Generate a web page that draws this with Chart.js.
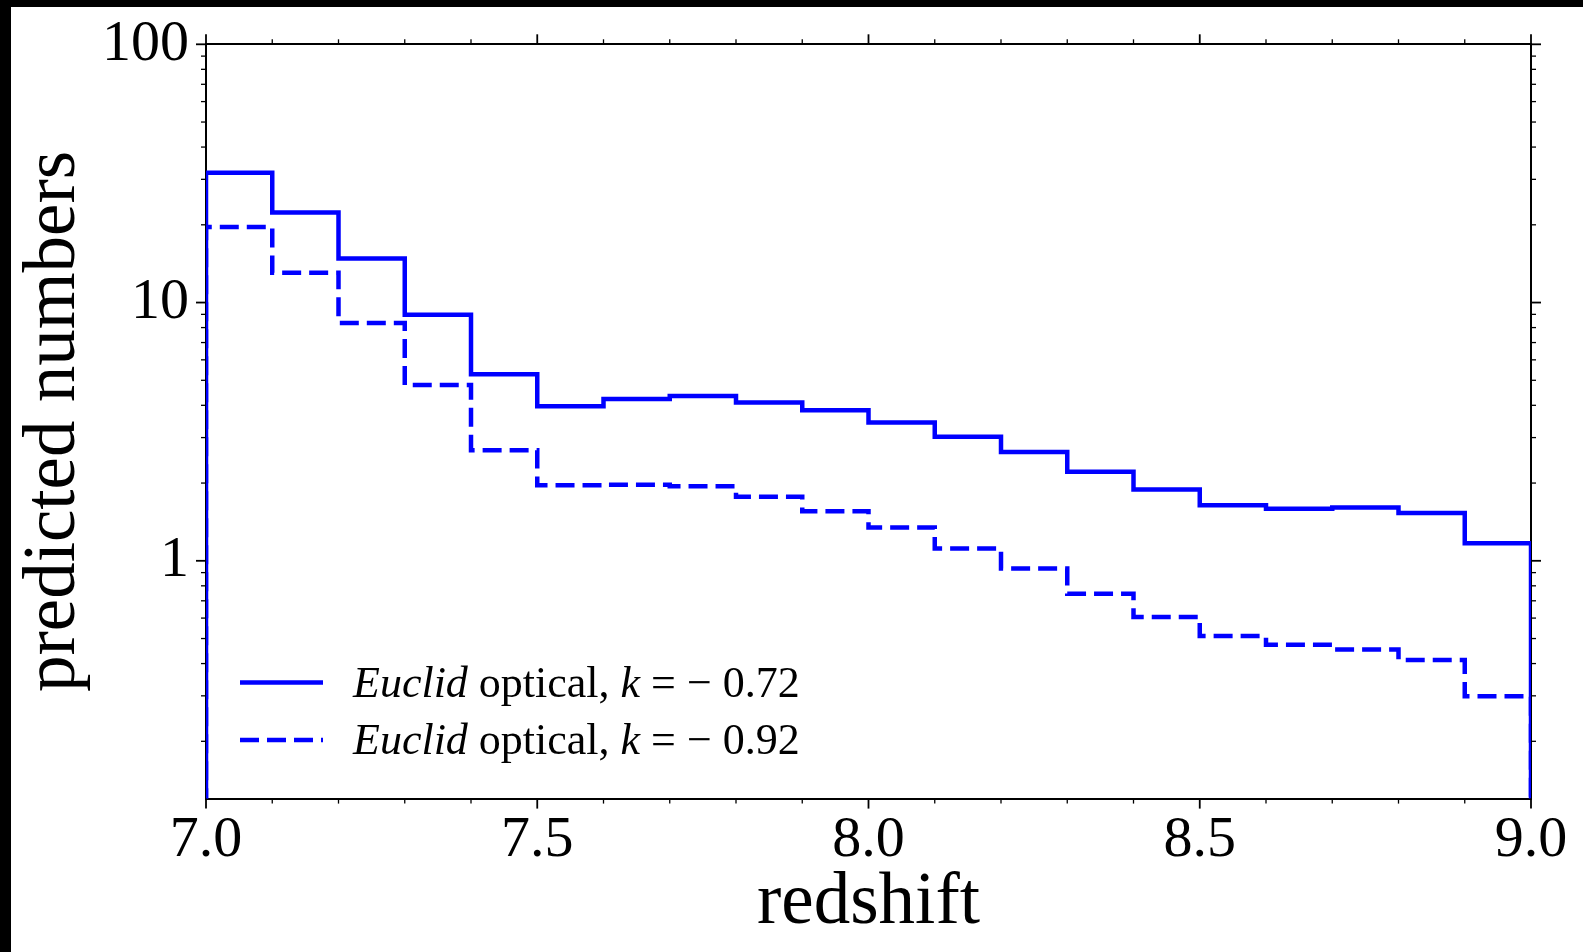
<!DOCTYPE html>
<html>
<head>
<meta charset="utf-8">
<script src="https://cdn.jsdelivr.net/npm/chart.js@4.4.0/dist/chart.umd.min.js"></script>
<style>
  html, body { margin: 0; padding: 0; background: #000; }
  #wrap { position: absolute; left: 11px; top: 7px; width: 1572px; height: 945px; background: #fff; }
</style>
</head>
<body>
<div id="wrap"><canvas id="histChart" width="1572" height="945"></canvas></div>
<script>
// redshift bin edges
var binEdges = [7.0, 7.1, 7.2, 7.3, 7.4, 7.5, 7.6, 7.7, 7.8, 7.9, 8.0,
                8.1, 8.2, 8.3, 8.4, 8.5, 8.6, 8.7, 8.8, 8.9, 9.0];
// predicted numbers per bin
var countsK072 = [31.8, 22.3, 14.8, 8.97, 5.28, 3.97, 4.23, 4.35, 4.10, 3.83,
                  3.43, 3.02, 2.64, 2.21, 1.89, 1.64, 1.59, 1.61, 1.53, 1.17];
var countsK092 = [19.6, 13.05, 8.33, 4.79, 2.68, 1.96, 1.97, 1.945, 1.77, 1.555,
                  1.345, 1.115, 0.933, 0.746, 0.606, 0.511, 0.473, 0.453, 0.413, 0.299];
var kValues = ["\u22120.72", "\u22120.92"];

var xMajorTicks = [7.0, 7.5, 8.0, 8.5, 9.0];
var xMinorTicks = [7.1, 7.2, 7.3, 7.4, 7.6, 7.7, 7.8, 7.9, 8.1, 8.2, 8.3, 8.4, 8.6, 8.7, 8.8, 8.9];
var yMajorTicks = [1, 10, 100];
var yMinorTicks = [0.2, 0.3, 0.4, 0.5, 0.6, 0.7, 0.8, 0.9,
                   2, 3, 4, 5, 6, 7, 8, 9,
                   20, 30, 40, 50, 60, 70, 80, 90];

var yFloor = 0.01; // below the axis, so the step outline drops to the bottom edge
var serif = "'Liberation Serif', 'DejaVu Serif', serif";

function stepPoints(vals) {
  var last = binEdges.length - 1;
  var pts = [{ x: binEdges[0], y: yFloor }];
  for (var i = 0; i < vals.length; i++) {
    pts.push({ x: binEdges[i], y: vals[i] });
  }
  pts.push({ x: binEdges[last], y: vals[vals.length - 1] });
  pts.push({ x: binEdges[last], y: yFloor });
  return pts;
}

// outward tick marks on all four sides
var tickMarks = {
  id: "tickMarks",
  afterDraw: function (chart) {
    var ctx = chart.ctx, a = chart.chartArea;
    var xs = chart.scales.x, ys = chart.scales.y;
    function mark(x1, y1, x2, y2, w) {
      ctx.lineWidth = w;
      ctx.beginPath();
      ctx.moveTo(x1, y1);
      ctx.lineTo(x2, y2);
      ctx.stroke();
    }
    ctx.save();
    ctx.strokeStyle = "#000";
    xMajorTicks.forEach(function (v) {
      var p = xs.getPixelForValue(v);
      mark(p, a.bottom, p, a.bottom + 10, 1.8);
      mark(p, a.top, p, a.top - 10, 1.8);
    });
    xMinorTicks.forEach(function (v) {
      var p = xs.getPixelForValue(v);
      mark(p, a.bottom, p, a.bottom + 5, 1.3);
      mark(p, a.top, p, a.top - 5, 1.3);
    });
    yMajorTicks.forEach(function (v) {
      var p = ys.getPixelForValue(v);
      mark(a.left, p, a.left - 10, p, 1.8);
      mark(a.right, p, a.right + 10, p, 1.8);
    });
    yMinorTicks.forEach(function (v) {
      var p = ys.getPixelForValue(v);
      mark(a.left, p, a.left - 5, p, 1.3);
      mark(a.right, p, a.right + 5, p, 1.3);
    });
    ctx.restore();
  }
};

// legend inside the plot, lower left
var insideLegend = {
  id: "insideLegend",
  afterDatasetsDraw: function (chart) {
    var ctx = chart.ctx, a = chart.chartArea;
    ctx.save();
    chart.data.datasets.forEach(function (ds, i) {
      var y = a.bottom - 116 + i * 57.5;
      var x0 = a.left + 34;
      ctx.strokeStyle = ds.borderColor;
      ctx.lineWidth = ds.borderWidth;
      ctx.setLineDash(ds.borderDash || []);
      ctx.beginPath();
      ctx.moveTo(x0, y);
      ctx.lineTo(x0 + 83, y);
      ctx.stroke();
      ctx.setLineDash([]);

      var tx = a.left + 147, ty = y + 14;
      ctx.fillStyle = "#000";
      ctx.textBaseline = "alphabetic";
      ctx.textAlign = "left";
      var parts = [
        ["italic", "Euclid"],
        ["normal", " optical, "],
        ["italic", "k"],
        ["normal", " = " + kValues[i].replace("\u2212", "\u2212 ")]
      ];
      parts.forEach(function (p) {
        ctx.font = p[0] + " 44px " + serif;
        ctx.fillText(p[1], tx, ty);
        tx += ctx.measureText(p[1]).width;
      });
    });
    ctx.restore();
  }
};

var ctx = document.getElementById("histChart").getContext("2d");
var myChart = new Chart(ctx, {
  type: "line",
  data: {
    datasets: [
      {
        label: "Euclid optical, k = \u22120.72",
        data: stepPoints(countsK072),
        borderColor: "#0000ff",
        borderWidth: 4.5,
        stepped: true,
        pointRadius: 0,
        fill: false
      },
      {
        label: "Euclid optical, k = \u22120.92",
        data: stepPoints(countsK092),
        borderColor: "#0000ff",
        borderWidth: 4.5,
        borderDash: [19, 8],
        stepped: true,
        pointRadius: 0,
        fill: false
      }
    ]
  },
  options: {
    responsive: false,
    animation: false,
    layout: { padding: { left: 0, top: 37.3, right: 52, bottom: 0 } },
    plugins: {
      legend: { display: false },
      tooltip: { enabled: false }
    },
    scales: {
      x: {
        type: "linear",
        position: "bottom",
        min: 7,
        max: 9,
        grid: { display: false, drawTicks: false },
        border: { display: true, color: "#000", width: 2 },
        afterBuildTicks: function (s) {
          s.ticks = xMajorTicks.map(function (v) { return { value: v }; });
        },
        afterFit: function (s) { s.height = 153.4; },
        ticks: {
          color: "#000",
          padding: 7,
          maxRotation: 0,
          font: { family: serif, size: 58 },
          callback: function (v) { return Number(v).toFixed(1); }
        },
        title: {
          display: true,
          text: "redshift",
          color: "#000",
          padding: { top: 0, bottom: 4 },
          font: { family: serif, size: 73 }
        }
      },
      x2: {
        type: "linear",
        position: "top",
        min: 7,
        max: 9,
        grid: { display: false, drawTicks: false },
        border: { display: true, color: "#000", width: 2 },
        ticks: { display: false },
        afterFit: function (s) { s.height = 0; }
      },
      y: {
        type: "logarithmic",
        position: "left",
        min: 0.12,
        max: 100,
        grid: { display: false, drawTicks: false },
        border: { display: true, color: "#000", width: 2 },
        afterBuildTicks: function (s) {
          s.ticks = yMajorTicks.map(function (v) { return { value: v }; });
        },
        afterFit: function (s) {
          s.width = 195;
          s.paddingTop = 0;
          s.paddingBottom = 0;
        },
        ticks: {
          color: "#000",
          padding: 17,
          font: { family: serif, size: 58 },
          callback: function (v) { return String(v); }
        },
        title: {
          display: true,
          text: "predicted numbers",
          color: "#000",
          padding: { top: 0, bottom: 0 },
          font: { family: serif, size: 73 }
        }
      },
      y2: {
        type: "logarithmic",
        position: "right",
        min: 0.12,
        max: 100,
        grid: { display: false, drawTicks: false },
        border: { display: true, color: "#000", width: 2 },
        ticks: { display: false },
        afterFit: function (s) {
          s.width = 0;
          s.paddingTop = 0;
          s.paddingBottom = 0;
        }
      }
    }
  },
  plugins: [tickMarks, insideLegend]
});
</script>
</body>
</html>
